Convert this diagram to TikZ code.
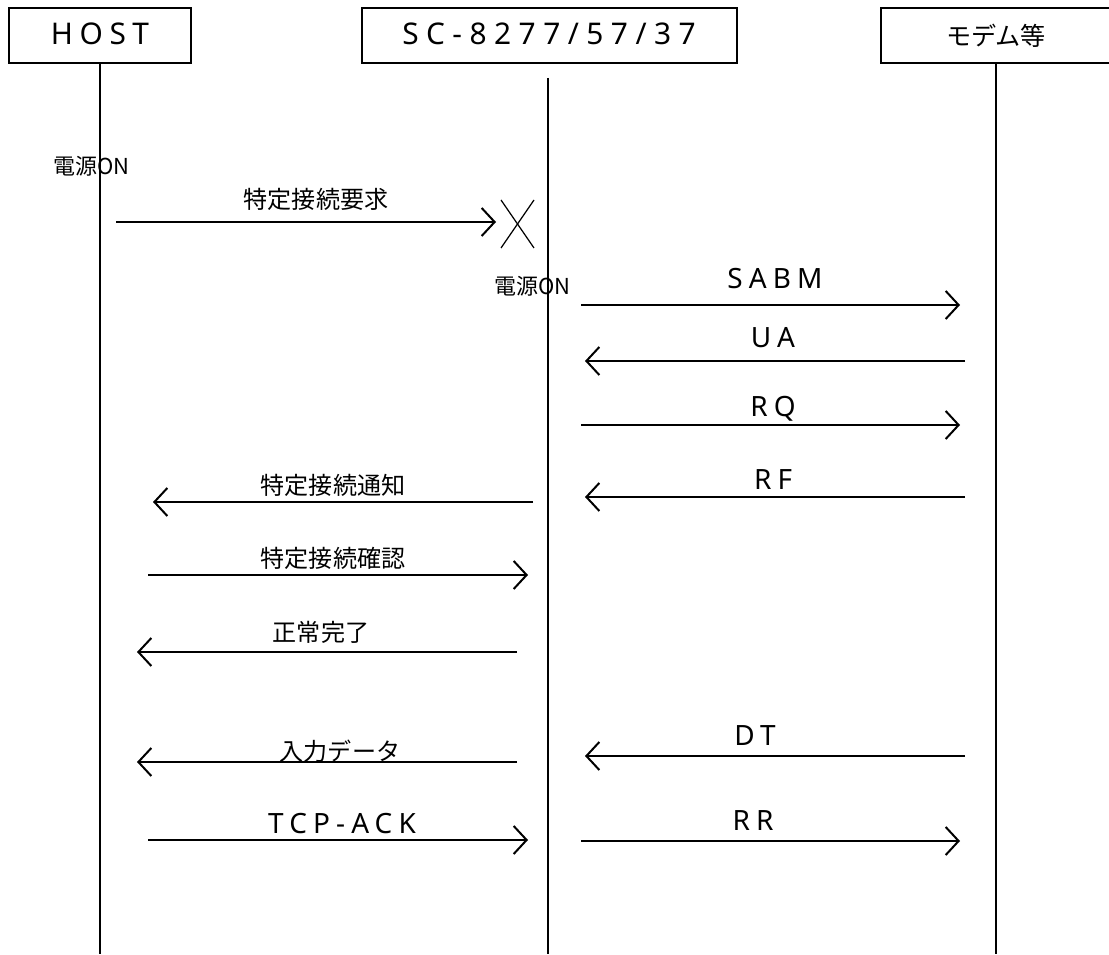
\documentclass[tikz,border=0pt]{standalone}
\usepackage{fontspec}
\setmainfont{Noto Sans CJK JP}
\newfontfamily\spaced[LetterSpace=22]{Noto Sans}
\newfontfamily\widespaced[LetterSpace=25]{Noto Sans}
\usepackage{tikz}
\usetikzlibrary{arrows.meta}

\begin{document}
\begin{tikzpicture}[scale=1,
  msg/.style={line width=1.14pt, -{Straight Barb[length=7.4pt, width=16pt]}},
  life/.style={line width=1.14pt},
  actor/.style={draw, line width=1.14pt, minimum height=1.10cm, inner sep=0pt,
    text height=12.1pt, text depth=1.4pt, font=\spaced\fontsize{17}{20}\selectfont},
  jlabel/.style={inner sep=0pt, text height=12pt, text depth=1.6pt,
    font=\fontsize{13.7}{16}\selectfont},
  elabel/.style={inner sep=0pt, text height=11.4pt, text depth=0pt,
    font=\spaced\fontsize{15.9}{18}\selectfont}]
  \useasboundingbox (0,0) rectangle (22.18,19.08);

  % Actors
  \node[actor, minimum width=3.64cm] (host) at (2.00, 18.37) {HOST};
  \node[actor, minimum width=7.50cm, font=\widespaced\fontsize{17}{20}\selectfont]
    (sc) at (10.98, 18.37) {SC-8277/57/37};
  \node[actor, minimum width=4.60cm, text height=12.6pt, text depth=1.4pt,
    font=\fontsize{14.3}{17}\selectfont] (modem) at (19.92, 18.37) {モデム等};

  % Coordinates
  \coordinate (H0) at (2.00, 0);
  \coordinate (S1) at (10.96, 17.52);
  \coordinate (S0) at (10.96, 0);
  \coordinate (M0) at (19.92, 0);

  \coordinate (A) at (2.32, 14.64);
  \coordinate (B) at (9.92, 14.64);
  \coordinate (X1) at (10.02, 15.08);
  \coordinate (X2) at (10.68, 14.12);
  \coordinate (X3) at (10.68, 15.08);
  \coordinate (X4) at (10.02, 14.12);
  \coordinate (C) at (11.62, 12.98);
  \coordinate (D) at (19.20, 12.98);
  \coordinate (E) at (19.30, 11.86);
  \coordinate (F) at (11.70, 11.86);
  \coordinate (G) at (11.62, 10.58);
  \coordinate (H) at (19.20, 10.58);
  \coordinate (I) at (19.30, 9.14);
  \coordinate (J) at (11.70, 9.14);
  \coordinate (K) at (10.66, 9.04);
  \coordinate (L) at (3.06, 9.04);
  \coordinate (M) at (2.96, 7.58);
  \coordinate (N) at (10.56, 7.58);
  \coordinate (O) at (10.34, 6.04);
  \coordinate (P) at (2.74, 6.04);
  \coordinate (Q) at (19.30, 3.96);
  \coordinate (R) at (11.70, 3.96);
  \coordinate (S) at (10.34, 3.84);
  \coordinate (T) at (2.74, 3.84);
  \coordinate (U) at (11.62, 2.26);
  \coordinate (V) at (19.20, 2.26);
  \coordinate (W) at (2.96, 2.28);
  \coordinate (Y) at (10.56, 2.28);

  % Labels
  \node[jlabel, anchor=west] (on1) at (1.06, 15.78) {\fontsize{12.5}{15}\selectfont 電源ON};
  \node[jlabel, anchor=west] (on2) at (9.88, 13.38) {\fontsize{12.5}{15}\selectfont 電源ON};
  \node[jlabel] (l1) at (6.32, 15.10) {特定接続要求};
  \node[elabel] (l2) at (15.50, 13.52) {SABM};
  \node[elabel] (l3) at (15.46, 12.34) {UA};
  \node[elabel] (l4) at (15.46, 10.96) {RQ};
  \node[elabel] (l5) at (15.46, 9.50) {RF};
  \node[jlabel] (l6) at (6.66, 9.38) {特定接続通知};
  \node[jlabel] (l7) at (6.66, 7.92) {特定接続確認};
  \node[jlabel] (l8) at (6.42, 6.44) {正常完了};
  \node[elabel] (l9) at (15.10, 4.38) {DT};
  \node[jlabel] (l10) at (6.80, 4.06) {入力データ};
  \node[elabel] (l11) at (15.06, 2.68) {RR};
  \node[elabel] (l12) at (6.84, 2.62) {TCP-ACK};

  % Drawing
  \draw[life] (host.south) -- (H0);
  \draw[life] (S1) -- (S0);
  \draw[life] (modem.south) -- (M0);

  \draw[msg] (A) -- (B);
  \draw[line width=0.7pt] (X1) -- (X2);
  \draw[line width=0.7pt] (X3) -- (X4);
  \draw[msg] (C) -- (D);
  \draw[msg] (E) -- (F);
  \draw[msg] (G) -- (H);
  \draw[msg] (I) -- (J);
  \draw[msg] (K) -- (L);
  \draw[msg] (M) -- (N);
  \draw[msg] (O) -- (P);
  \draw[msg] (Q) -- (R);
  \draw[msg] (S) -- (T);
  \draw[msg] (U) -- (V);
  \draw[msg] (W) -- (Y);
\end{tikzpicture}
\end{document}
